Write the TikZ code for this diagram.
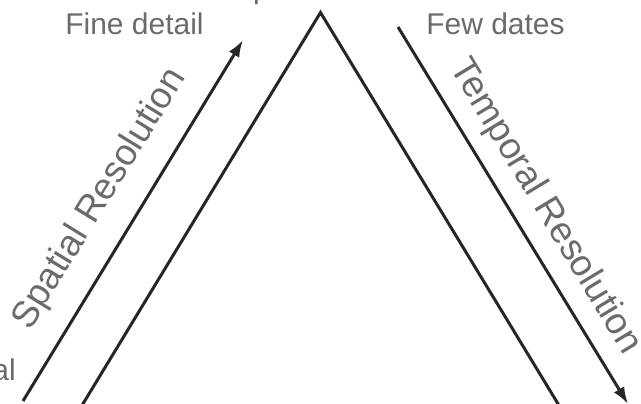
\documentclass[tikz,border=0pt]{standalone}
\usepackage{fontspec}
\setmainfont{Liberation Sans}
\usetikzlibrary{arrows.meta}
\tikzset{
  leg/.style={line width=3pt, black!85, line join=miter},
  resarrow/.style={line width=3pt, black!85, -{Latex[length=17pt,width=12pt]}},
  toplabel/.style={text=black!58, font=\fontsize{30}{36}\selectfont, inner sep=0pt, anchor=base},
  sidelabel/.style={text=black!58, font=\fontsize{37}{42}\selectfont, inner sep=0pt},
}
\begin{document}
\begin{tikzpicture}[x=1pt,y=-1pt]
\useasboundingbox (0,0) rectangle (641,404);
% triangle
\coordinate (apex) at (320.5,12.5);
\coordinate (bl) at (78,412);
\coordinate (br) at (563,412);
\draw[leg] (bl) -- (apex) -- (br);
% arrows
\coordinate (sa) at (23,401);
\coordinate (sb) at (243,40);
\draw[resarrow] (sa) -- (sb);
\coordinate (ta) at (398,27);
\coordinate (tb) at (628,404);
\draw[resarrow] (ta) -- (tb);
% labels
\node[toplabel] (fine) at (134.5,35) {Fine detail};
\node[toplabel] (few) at (495.5,35) {Few dates};
\node[sidelabel, rotate=58.4] (spat) at (100,199) {Spatial Resolution};
\node[sidelabel, rotate=-58.8] (temp) at (545,207) {Temporal Resolution};
% cut-off fragments
\node[toplabel, anchor=base east] (frag1) at (16,380) {al};
\node[toplabel, anchor=base west] (frag2) at (253,-1) {p};
\end{tikzpicture}
\end{document}
